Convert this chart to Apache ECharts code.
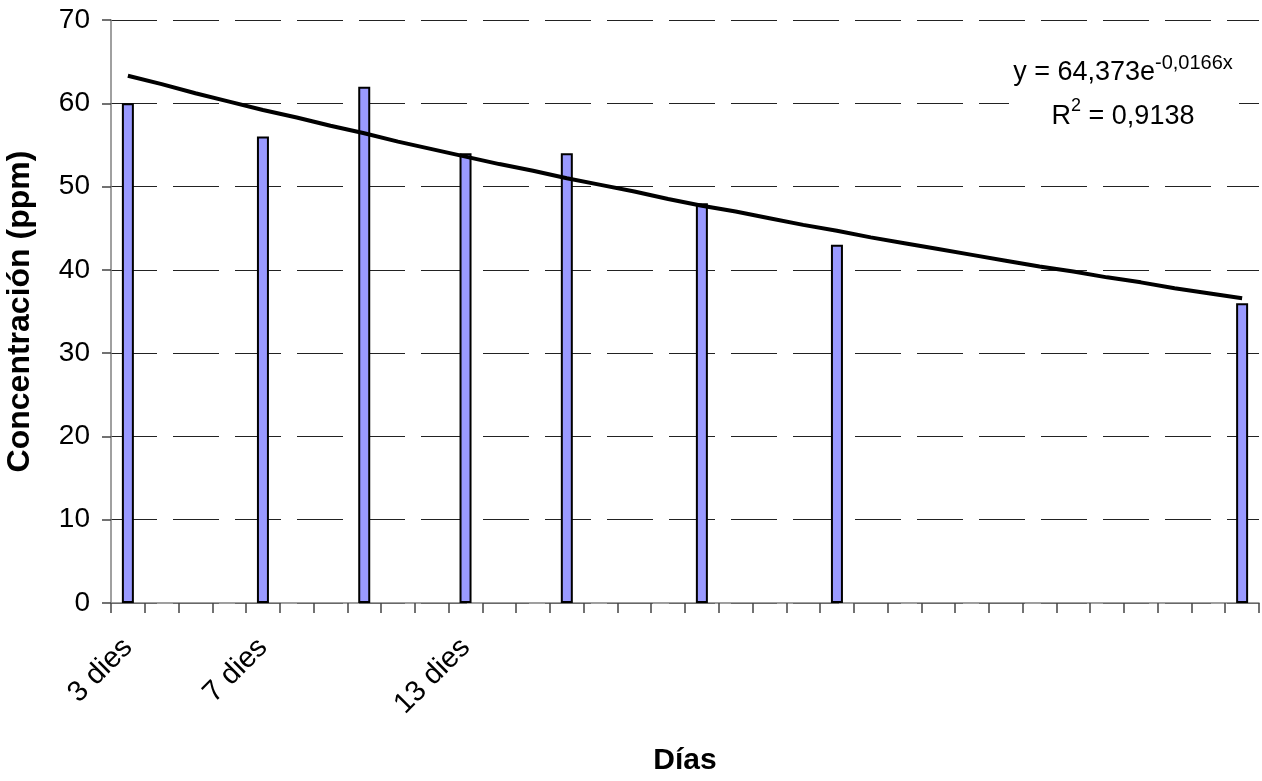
<!DOCTYPE html>
<html>
<head>
<meta charset="utf-8">
<script src="https://cdn.jsdelivr.net/npm/echarts@6/dist/echarts.min.js"></script>
<style>
html,body{margin:0;padding:0;background:#fff;}
#chart{width:1262px;height:781px;}
</style>
</head>
<body>
<div id="chart"></div>
<script>
// Category axis: days 3..36
const days = ['3','4','5','6','7','8','9','10','11','12','13','14','15','16','17','18','19','20',
  '21','22','23','24','25','26','27','28','29','30','31','32','33','34','35','36'];
// Only these categories carry a visible tick label
const labeledDays = ['3','7','13'];
const labelTexts = ['3 dies','7 dies','13 dies'];
// Measured concentrations
const barDays = ['3','7','10','13','16','20','24','36'];
const barValues = [60, 56, 62, 54, 54, 48, 43, 36];
// Exponential trendline, one value per category
const trendValues = [63.3, 62.3, 61.2, 60.2, 59.2, 58.3, 57.3, 56.4, 55.4, 54.5, 53.6, 52.7,
  51.9, 51.0, 50.2, 49.4, 48.5, 47.7, 47.0, 46.2, 45.4, 44.7, 43.9, 43.2, 42.5, 41.8,
  41.1, 40.4, 39.8, 39.1, 38.5, 37.8, 37.2, 36.6];
const yTicks = [0, 10, 20, 30, 40, 50, 60, 70];

const FONT = 'Arial, "Liberation Sans", sans-serif';
const chart = echarts.init(document.getElementById('chart'), null, {renderer: 'canvas'});

const barData = barDays.map((d, i) => [d, barValues[i]]);
const trendData = days.map((d, i) => [d, trendValues[i]]);

chart.setOption({
  backgroundColor: '#ffffff',
  animation: false,
  grid: {left: 111, right: 3, top: 20, bottom: 178, containLabel: false, outerBoundsMode: 'none'},
  xAxis: {
    type: 'category',
    data: days,
    boundaryGap: true,
    name: 'Días',
    nameLocation: 'middle',
    nameGap: 143,
    nameTextStyle: {fontFamily: FONT, fontSize: 30, fontWeight: 'bold', color: '#000'},
    axisLine: {show: true, lineStyle: {color: '#808080', width: 1.5}},
    axisTick: {show: true, interval: 0, alignWithLabel: false, length: 10, lineStyle: {color: '#444', width: 1.5}},
    axisLabel: {
      interval: 0, rotate: 45, margin: 40,
      fontFamily: FONT, fontSize: 29, color: '#000',
      formatter: function (v) {
        const k = labeledDays.indexOf(v);
        return k >= 0 ? labelTexts[k] : '';
      }
    },
    splitLine: {show: false}
  },
  yAxis: {
    type: 'value',
    min: yTicks[0], max: yTicks[yTicks.length - 1], interval: 10,
    name: 'Concentración (ppm)',
    nameLocation: 'middle',
    nameGap: 75,
    nameTextStyle: {fontFamily: FONT, fontSize: 32, fontWeight: 'bold', color: '#000'},
    axisLine: {show: true, lineStyle: {color: '#808080', width: 1.5}},
    axisTick: {show: true, length: 9, lineStyle: {color: '#444', width: 1.5}},
    axisLabel: {margin: 21, fontFamily: FONT, fontSize: 28, color: '#000'},
    splitLine: {show: true, lineStyle: {color: '#222', width: 1, type: [46, 16]}}
  },
  series: [
    {
      type: 'bar',
      data: barData,
      barWidth: 12,
      itemStyle: {color: '#9999FF', borderColor: '#000', borderWidth: 2},
      z: 2
    },
    {
      type: 'line',
      data: trendData,
      symbol: 'none',
      smooth: false,
      lineStyle: {color: '#000', width: 4},
      z: 3
    }
  ],
  graphic: [
    {type: 'rect', shape: {x: 1009, y: 52, width: 230, height: 88}, style: {fill: '#fff'}, z: 10},
    {
      type: 'text', z: 11,
      style: {
        x: 1123, y: 73, align: 'center', verticalAlign: 'middle',
        text: '{a|y = 64,373e}{b|-0,0166x}',
        rich: {
          a: {fontFamily: FONT, fontSize: 27, lineHeight: 40, fill: '#000', verticalAlign: 'middle'},
          b: {fontFamily: FONT, fontSize: 20, lineHeight: 20, fill: '#000', verticalAlign: 'top'}
        }
      }
    },
    {
      type: 'text', z: 11,
      style: {
        x: 1123, y: 117, align: 'center', verticalAlign: 'middle',
        text: '{a|R}{b|2}{a| = 0,9138}',
        rich: {
          a: {fontFamily: FONT, fontSize: 27, lineHeight: 40, fill: '#000', verticalAlign: 'middle'},
          b: {fontFamily: FONT, fontSize: 18, lineHeight: 20, fill: '#000', verticalAlign: 'top'}
        }
      }
    }
  ]
});
</script>
</body>
</html>
